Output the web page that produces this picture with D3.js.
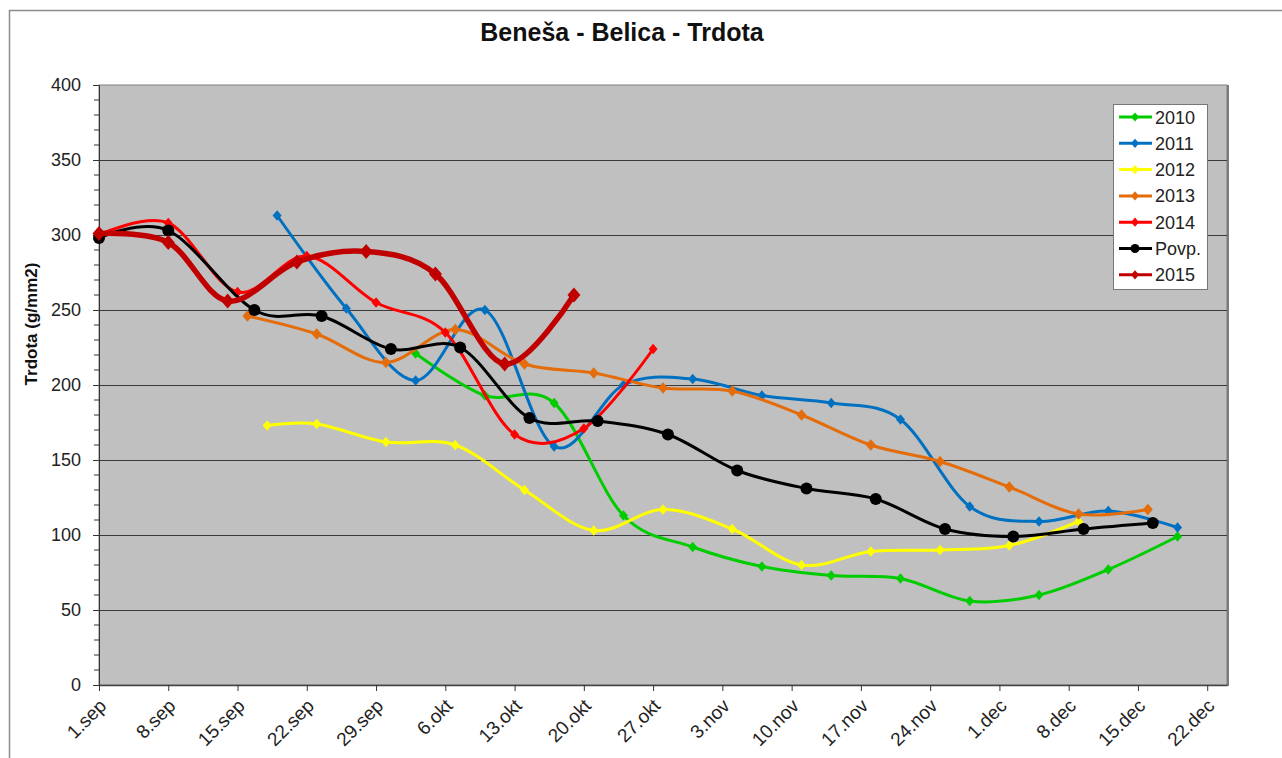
<!DOCTYPE html>
<html>
<head>
<meta charset="utf-8">
<script src="https://cdn.jsdelivr.net/npm/d3@7"></script>
<style>
  body { margin: 0; background: #fff; }
  svg { display: block; font-family: "Liberation Sans", Arial, sans-serif; }
</style>
</head>
<body>
<div id="chart"></div>
<script>
// x values are days counted from 1.sep
const tickLabels = ["1.sep", "8.sep", "15.sep", "22.sep", "29.sep", "6.okt", "13.okt", "20.okt", "27.okt",
                    "3.nov", "10.nov", "17.nov", "24.nov", "1.dec", "8.dec", "15.dec", "22.dec"];
const yTicks = [0, 50, 100, 150, 200, 250, 300, 350, 400];

const days2010 = [32, 39, 46, 53, 60, 67, 74, 81, 88, 95, 102, 109];
const vals2010 = [221, 193, 188, 113, 92, 79, 73, 71, 56, 60, 77, 99];

const days2011 = [18, 25, 32, 39, 46, 53, 60, 67, 74, 81, 88, 95, 102, 109];
const vals2011 = [313, 251, 203, 250, 159, 200, 204, 193, 188, 177, 119, 109, 116, 105];

const days2012 = [17, 22, 29, 36, 43, 50, 57, 64, 71, 78, 85, 92, 99];
const vals2012 = [173, 174, 162, 160, 130, 103, 117, 104, 80, 89, 90, 93, 109];

const days2013 = [15, 22, 29, 36, 43, 50, 57, 64, 71, 78, 85, 92, 99, 106];
const vals2013 = [246, 234, 215, 237, 214, 208, 198, 196, 180, 160, 149, 132, 114, 117];

const days2014 = [0, 7, 14, 21, 28, 35, 42, 49, 56];
const vals2014 = [300, 308, 262, 286, 255, 235, 167, 171, 224];

const daysPovp = [0, 7, 15.7, 22.5, 29.5, 36.5, 43.5, 50.4, 57.5, 64.5, 71.5, 78.5, 85.5, 92.4, 99.5, 106.5];
const valsPovp = [298, 303, 250, 246, 224, 225, 178, 176, 167, 143, 131, 124, 104, 99, 104, 108];

const days2015 = [0, 7, 13, 20, 27, 34, 41, 48];
const vals2015 = [301, 295, 256, 282, 289, 274, 214, 260];

const series = [
  {name: "2010", days: days2010, vals: vals2010, color: "#00cc00", width: 3, marker: "diamond", size: 9},
  {name: "2011", days: days2011, vals: vals2011, color: "#0070c0", width: 3, marker: "diamond", size: 9},
  {name: "2012", days: days2012, vals: vals2012, color: "#ffff00", width: 3, marker: "diamond", size: 9},
  {name: "2013", days: days2013, vals: vals2013, color: "#e46c0a", width: 3, marker: "diamond", size: 10},
  {name: "2014", days: days2014, vals: vals2014, color: "#ff0000", width: 3, marker: "diamond", size: 9},
  {name: "Povp.", days: daysPovp, vals: valsPovp, color: "#000000", width: 3, marker: "circle", size: 6},
  {name: "2015", days: days2015, vals: vals2015, color: "#c00000", width: 5.5, marker: "diamond", size: 13}
];

const W = 1282, H = 758;
const plot = {left: 99, right: 1227, top: 85, bottom: 685};

const svg = d3.select("#chart").append("svg").attr("width", W).attr("height", H);

// outer chart frame (only top and left visible)
svg.append("path")
  .attr("d", "M9.5," + H + "V10.5H" + W)
  .attr("fill", "none").attr("stroke", "#8c8c8c").attr("stroke-width", 1.5);

const x = d3.scaleLinear().domain([0, 114]).range([plot.left, plot.right]);
const y = d3.scaleLinear().domain([0, 400]).range([plot.bottom, plot.top]);

// plot background
svg.append("rect")
  .attr("x", plot.left).attr("y", plot.top)
  .attr("width", plot.right - plot.left).attr("height", plot.bottom - plot.top)
  .attr("fill", "#c0c0c0").attr("stroke", "#808080").attr("stroke-width", 1);
svg.append("line")
  .attr("x1", plot.right + 1).attr("x2", plot.right + 1)
  .attr("y1", plot.top).attr("y2", plot.bottom + 1)
  .attr("stroke", "#7a7a7a").attr("stroke-width", 2);

// gridlines
svg.append("g").selectAll("line")
  .data(yTicks.filter(v => v > 0 && v < 400))
  .join("line")
  .attr("x1", plot.left).attr("x2", plot.right)
  .attr("y1", d => Math.round(y(d)) + 0.5).attr("y2", d => Math.round(y(d)) + 0.5)
  .attr("stroke", "#3a3a3a").attr("stroke-width", 1);

// y axis
const yAxis = d3.axisLeft(y).tickValues(yTicks).tickSize(6).tickPadding(12);
const gy = svg.append("g").attr("transform", "translate(" + plot.left + ",0)").call(yAxis);
gy.select(".domain").attr("stroke", "#333");
gy.selectAll(".tick line").attr("stroke", "#333");
gy.selectAll(".tick text").attr("font-size", 18).attr("fill", "#222")
  .attr("font-family", "'Liberation Sans', Arial, sans-serif");

// minor ticks on y axis
svg.append("g").selectAll("line")
  .data(d3.range(0, 401, 10).filter(v => v % 50 !== 0))
  .join("line")
  .attr("x1", plot.left - 5).attr("x2", plot.left)
  .attr("y1", d => y(d)).attr("y2", d => y(d))
  .attr("stroke", "#333");

// x axis
const xAxis = d3.axisBottom(x)
  .tickValues(tickLabels.map((t, i) => i * 7))
  .tickFormat((d, i) => tickLabels[i])
  .tickSize(6).tickSizeOuter(0);
const gx = svg.append("g").attr("transform", "translate(0," + plot.bottom + ")").call(xAxis);
gx.select(".domain").attr("stroke", "#444").attr("stroke-width", 1.5);
gx.selectAll(".tick line").attr("stroke", "#333");
gx.selectAll(".tick text")
  .attr("font-size", 19).attr("fill", "#222")
  .attr("font-family", "'Liberation Sans', Arial, sans-serif")
  .attr("text-anchor", "end")
  .attr("dy", null)
  .attr("y", 0)
  .attr("transform", "translate(8,22) rotate(-45)");

// axis title
svg.append("text")
  .attr("transform", "translate(37,324) rotate(-90)")
  .attr("text-anchor", "middle")
  .attr("font-size", 17).attr("font-weight", "bold").attr("fill", "#111")
  .text("Trdota (g/mm2)");

// title
svg.append("text")
  .attr("x", 622).attr("y", 41)
  .attr("text-anchor", "middle")
  .attr("font-size", 25).attr("font-weight", "bold").attr("fill", "#111")
  .text("Beneša - Belica - Trdota");

const line = d3.line()
  .x(d => x(d[0]))
  .y(d => y(d[1]))
  .curve(d3.curveCardinal.tension(0));

function markerPath(type, s) {
  if (type === "circle") return d3.symbol(d3.symbolCircle, Math.PI * s * s)();
  return "M0," + (-s / 2 * 1.15) + "L" + (s / 2) + ",0L0," + (s / 2 * 1.15) + "L" + (-s / 2) + ",0Z";
}

series.forEach(s => {
  const pts = s.days.map((d, i) => [d, s.vals[i]]);
  const g = svg.append("g");
  g.append("path")
    .attr("d", line(pts))
    .attr("fill", "none")
    .attr("stroke", s.color)
    .attr("stroke-width", s.width)
    .attr("stroke-linejoin", "round");
  g.selectAll("path.m")
    .data(pts)
    .join("path")
    .attr("class", "m")
    .attr("transform", d => "translate(" + x(d[0]) + "," + y(d[1]) + ")")
    .attr("d", markerPath(s.marker, s.size))
    .attr("fill", s.color);
});

// legend
const lg = svg.append("g").attr("transform", "translate(1113,104)");
lg.append("rect").attr("x", 0.5).attr("y", 0.5).attr("width", 94).attr("height", 185)
  .attr("fill", "#fff").attr("stroke", "#777");
series.forEach((s, i) => {
  const cy = 13 + i * 26.3;
  lg.append("line").attr("x1", 6).attr("x2", 39).attr("y1", cy).attr("y2", cy)
    .attr("stroke", s.color).attr("stroke-width", 3);
  lg.append("path")
    .attr("transform", "translate(22," + cy + ")")
    .attr("d", markerPath(s.marker, s.marker === "circle" ? 4.5 : 8))
    .attr("fill", s.color);
  lg.append("text").attr("x", 42).attr("y", cy + 6.5)
    .attr("font-size", 18).attr("fill", "#222")
    .text(s.name);
});
</script>
</body>
</html>
